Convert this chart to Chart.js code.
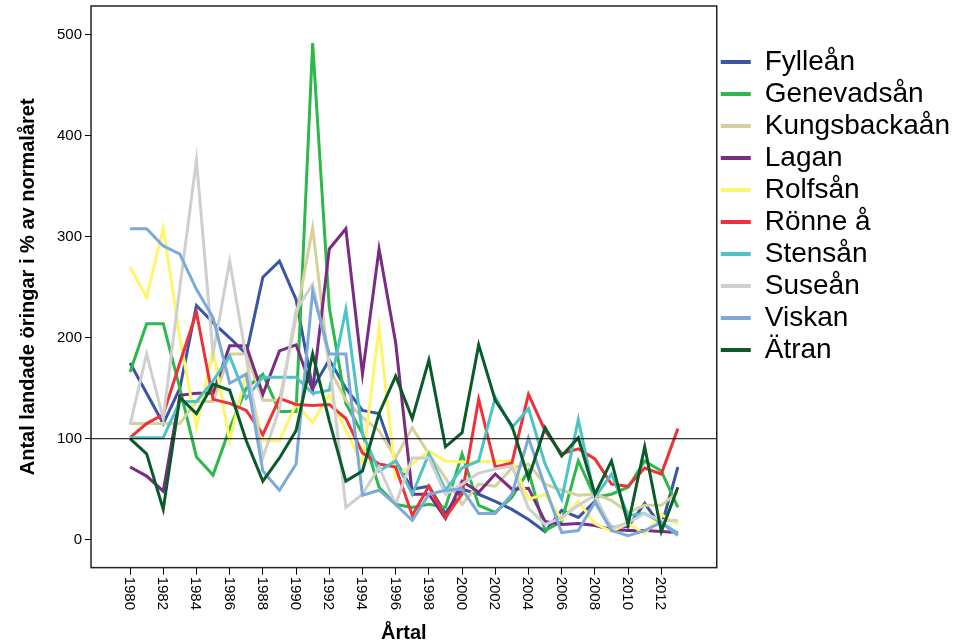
<!DOCTYPE html>
<html>
<head>
<meta charset="utf-8">
<script src="https://cdn.jsdelivr.net/npm/chart.js@4.4.1/dist/chart.umd.min.js"></script>
<style>
  html, body { margin: 0; padding: 0; background: #fff; }
  #myChart { display: block; }
</style>
</head>
<body>
<canvas id="myChart" width="969" height="642"></canvas>
<script>
const years = [1980, 1981, 1982, 1983, 1984, 1985, 1986, 1987, 1988, 1989,
  1990, 1991, 1992, 1993, 1994, 1995, 1996, 1997, 1998, 1999,
  2000, 2001, 2002, 2003, 2004, 2005, 2006, 2007, 2008, 2009,
  2010, 2011, 2012, 2013];
const xTickYears = [1980, 1982, 1984, 1986, 1988, 1990, 1992, 1994, 1996,
  1998, 2000, 2002, 2004, 2006, 2008, 2010, 2012];
const yTickValues = [0, 100, 200, 300, 400, 500];
const referenceLevel = 100;

const fyllean = [175, 145, 115, 150, 232, 215, 200, 184, 260, 276, 238, 150, 178, 150, 128, 125, 78, 50, 53, 26,
  50, 45, 38, 30, 20, 8, 29, 22, 38, 12, 13, 36, 13, 72];
const genevadsan = [166, 214, 214, 150, 82, 64, 110, 150, 164, 127, 127, 492, 230, 135, 105, 52, 35, 32, 35, 32,
  85, 34, 27, 42, 68, 9, 18, 78, 42, 45, 52, 78, 68, 32];
const kungsbackaan = [115, 115, 115, 115, 137, 137, 184, 184, 138, 138, 220, 309, 170, 138, 121, 108, 81, 111, 85, 61,
  35, 55, 53, 71, 75, 55, 49, 44, 45, 39, 27, 34, 34, 47];
const lagan = [72, 63, 48, 143, 145, 145, 192, 192, 144, 187, 193, 148, 288, 308, 164, 288, 195, 45, 45, 21,
  58, 47, 65, 50, 51, 18, 15, 16, 14, 10, 9, 9, 8, 7];
const rolfsan = [270, 240, 309, 200, 111, 188, 98, 165, 98, 98, 134, 116, 144, 108, 75, 210, 62, 75, 88, 78,
  77, 77, 78, 78, 40, 45, 20, 38, 16, 8, 16, 6, 25, 15];
const ronnea = [101, 115, 124, 175, 225, 139, 135, 128, 104, 140, 134, 133, 134, 120, 86, 75, 72, 24, 53, 22,
  45, 139, 72, 76, 144, 108, 85, 90, 80, 55, 53, 71, 65, 110];
const stensan = [101, 101, 101, 137, 137, 157, 182, 140, 161, 161, 161, 145, 148, 228, 105, 68, 78, 45, 85, 49,
  71, 78, 141, 111, 130, 75, 40, 119, 42, 65, 24, 26, 17, 6];
const susean = [114, 184, 120, 250, 376, 184, 276, 180, 81, 130, 227, 253, 177, 32, 45, 72, 35, 81, 81, 45,
  55, 66, 70, 73, 31, 15, 22, 34, 44, 11, 17, 26, 19, 19];
const viskan = [308, 308, 291, 283, 248, 220, 155, 164, 68, 49, 75, 246, 184, 184, 44, 49, 35, 19, 45, 49,
  50, 26, 26, 45, 101, 52, 7, 9, 37, 9, 4, 9, 17, 4];
const atran = [100, 85, 30, 141, 125, 154, 148, 98, 58, 81, 108, 184, 118, 58, 68, 125, 162, 120, 178, 92,
  106, 193, 138, 113, 61, 111, 83, 101, 45, 78, 15, 92, 8, 52];

const seriesNames = ["Fylleån", "Genevadsån", "Kungsbackaån", "Lagan", "Rolfsån",
  "Rönne å", "Stensån", "Suseån", "Viskan", "Ätran"];
const seriesValues = [fyllean, genevadsan, kungsbackaan, lagan, rolfsan,
  ronnea, stensan, susean, viskan, atran];
const seriesColors = ["#3A55A6", "#2DB84C", "#D6D09B", "#7A2B84", "#FFF56B",
  "#EE3338", "#4EC3C7", "#CFCFCF", "#7BAAD9", "#0B5A2A"];

const FONT = "'Liberation Sans', Arial, sans-serif";
Chart.defaults.font.family = FONT;
Chart.defaults.color = "#000";

// reference line at 100 and the box round the plot
const frameBox = {
  id: "frameBox",
  afterDatasetsDraw(chart) {
    const { ctx, chartArea: a, scales } = chart;
    const y100 = scales.y.getPixelForValue(referenceLevel);
    ctx.save();
    ctx.strokeStyle = "#000";
    ctx.lineWidth = 1;
    ctx.beginPath();
    ctx.moveTo(a.left, y100);
    ctx.lineTo(a.right, y100);
    ctx.stroke();
    ctx.lineWidth = 1.5;
    ctx.strokeStyle = "#222";
    ctx.strokeRect(a.left, a.top, a.right - a.left, a.bottom - a.top);
    ctx.restore();
  },
};

// year labels read top to bottom, Chart.js only turns them the other way
const yearLabels = {
  id: "yearLabels",
  afterDraw(chart) {
    const { ctx, chartArea: a, scales } = chart;
    ctx.save();
    ctx.font = "15px " + FONT;
    ctx.fillStyle = "#000";
    ctx.textAlign = "left";
    ctx.textBaseline = "middle";
    scales.x.ticks.forEach((t) => {
      ctx.save();
      ctx.translate(scales.x.getPixelForValue(t.value) - 1, a.bottom + 9);
      ctx.rotate(Math.PI / 2);
      ctx.fillText(String(t.value), 0, 0);
      ctx.restore();
    });
    ctx.restore();
  },
};

const datasets = seriesNames.map((name, i) => ({
  label: name,
  data: years.map((yr, j) => ({ x: yr, y: seriesValues[i][j] })),
  borderColor: seriesColors[i],
  backgroundColor: seriesColors[i],
  borderWidth: 3,
  pointRadius: 0,
  tension: 0,
  fill: false,
  order: seriesNames.length - i,
}));

new Chart(document.getElementById("myChart").getContext("2d"), {
  type: "line",
  data: { datasets: datasets },
  options: {
    responsive: false,
    animation: false,
    devicePixelRatio: 1,
    layout: { padding: { top: 5, left: 8, right: 16, bottom: -3 } },
    plugins: {
      tooltip: { enabled: false },
      legend: {
        position: "right",
        align: "start",
        title: { display: true, text: " ", font: { size: 10 }, padding: { top: 0, bottom: 27 } },
        labels: {
          boxWidth: 30,
          boxHeight: 4,
          padding: 4,
          color: "#000",
          font: { size: 28 },
          generateLabels: (chart) =>
            chart.data.datasets.map((ds, i) => ({
              text: ds.label,
              fillStyle: ds.borderColor,
              strokeStyle: ds.borderColor,
              lineWidth: 0,
              hidden: false,
              datasetIndex: i,
              fontColor: "#000",
            })),
        },
      },
    },
    scales: {
      x: {
        type: "linear",
        min: 1977.65,
        max: 2015.34,
        afterBuildTicks: (scale) => {
          scale.ticks = xTickYears.map((v) => ({ value: v }));
        },
        ticks: {
          autoSkip: false,
          minRotation: 90,
          maxRotation: 90,
          padding: 4,
          color: "rgba(0,0,0,0)",
          font: { size: 15 },
          callback: (v) => String(v),
        },
        grid: { drawOnChartArea: false, drawTicks: true, tickLength: 7, tickColor: "#000", color: "#000" },
        border: { display: false },
        title: {
          display: true,
          text: "Årtal",
          font: { size: 20, weight: "bold" },
          padding: { top: 5, bottom: 0 },
        },
      },
      y: {
        type: "linear",
        min: -27.7,
        max: 528.7,
        afterBuildTicks: (scale) => {
          scale.ticks = yTickValues.map((v) => ({ value: v }));
        },
        ticks: { padding: 3, font: { size: 15, lineHeight: 0.4 }, callback: (v) => String(v) },
        grid: { drawOnChartArea: false, drawTicks: true, tickLength: 6, tickColor: "#000", color: "#000" },
        border: { display: false },
        title: {
          display: true,
          text: "Antal landade öringar i % av normalåret",
          font: { size: 20, weight: "bold" },
          padding: { top: 8, bottom: 14 },
        },
      },
    },
  },
  plugins: [frameBox, yearLabels],
});
</script>
</body>
</html>
